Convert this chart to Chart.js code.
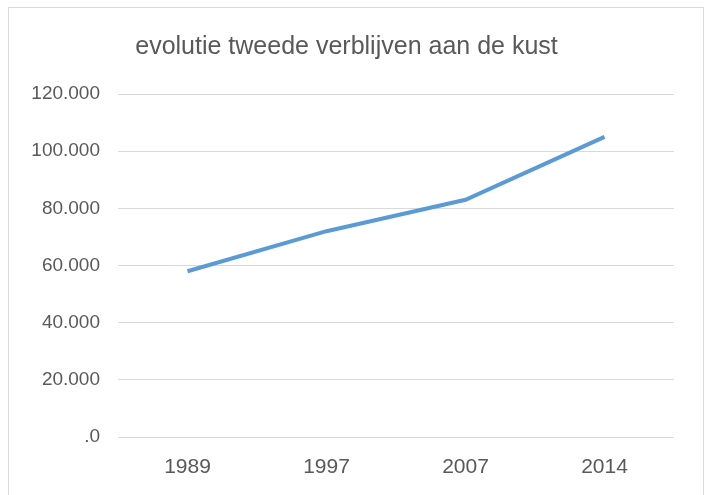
<!DOCTYPE html>
<html>
<head>
<meta charset="utf-8">
<script src="https://cdn.jsdelivr.net/npm/chart.js@4"></script>
<style>
    html, body { margin: 0; padding: 0; background: #fff; }
    #wrap { position: relative; width: 707px; height: 495px; }
    #frame { position: absolute; left: 8px; top: 7px; width: 694px; height: 500px; border: 1px solid #d9d9d9; pointer-events: none; }
</style>
</head>
<body>
<div id="wrap">
    <canvas id="chart" width="707" height="495"></canvas>
    <div id="frame"></div>
</div>
<script>
    // data
    const years = ['1989', '1997', '2007', '2014'];
    const verblijven = [58000, 72000, 83000, 105000];
    const yTicks = [0, 20000, 40000, 60000, 80000, 100000, 120000];

    const textColor = '#595959';
    const gridColor = '#d9d9d9';
    const fontFamily = "'Liberation Sans', Arial, sans-serif";

    // 120000 -> "120.000", 0 -> ".0"
    function formatTick(v) {
        if (v === 0) return '.0';
        return String(v).replace(/\B(?=(\d{3})+(?!\d))/g, '.');
    }

    const ctx = document.getElementById('chart').getContext('2d');
    new Chart(ctx, {
        type: 'line',
        data: {
            labels: years,
            datasets: [{
                label: 'tweede verblijven',
                data: verblijven,
                borderColor: '#5b9bd5',
                borderWidth: 4,
                pointRadius: 0,
                tension: 0,
                fill: false
            }]
        },
        options: {
            responsive: false,
            animation: false,
            layout: {
                padding: { left: 19, right: 33, top: 0, bottom: 15 }
            },
            plugins: {
                legend: { display: false },
                tooltip: { enabled: false },
                title: {
                    display: true,
                    text: 'evolutie tweede verblijven aan de kust',
                    color: textColor,
                    font: { family: fontFamily, size: 25, weight: 'normal' },
                    padding: { top: 32, bottom: 32 }
                }
            },
            scales: {
                x: {
                    offset: true,
                    afterFit: function (scale) {
                        scale.height = 43;
                    },
                    grid: { display: false, drawTicks: false },
                    border: { display: false },
                    ticks: {
                        color: textColor,
                        font: { family: fontFamily, size: 21 },
                        padding: 18
                    }
                },
                y: {
                    min: 0,
                    max: 120000,
                    afterBuildTicks: function (scale) {
                        scale.ticks = yTicks.map(v => ({ value: v }));
                    },
                    afterFit: function (scale) {
                        scale.width = 99;
                    },
                    grid: { color: gridColor, lineWidth: 1, drawTicks: false },
                    border: { display: false },
                    ticks: {
                        color: textColor,
                        font: { family: fontFamily, size: 19 },
                        padding: 18,
                        callback: function (value) { return formatTick(value); }
                    }
                }
            }
        }
    });
</script>
</body>
</html>
